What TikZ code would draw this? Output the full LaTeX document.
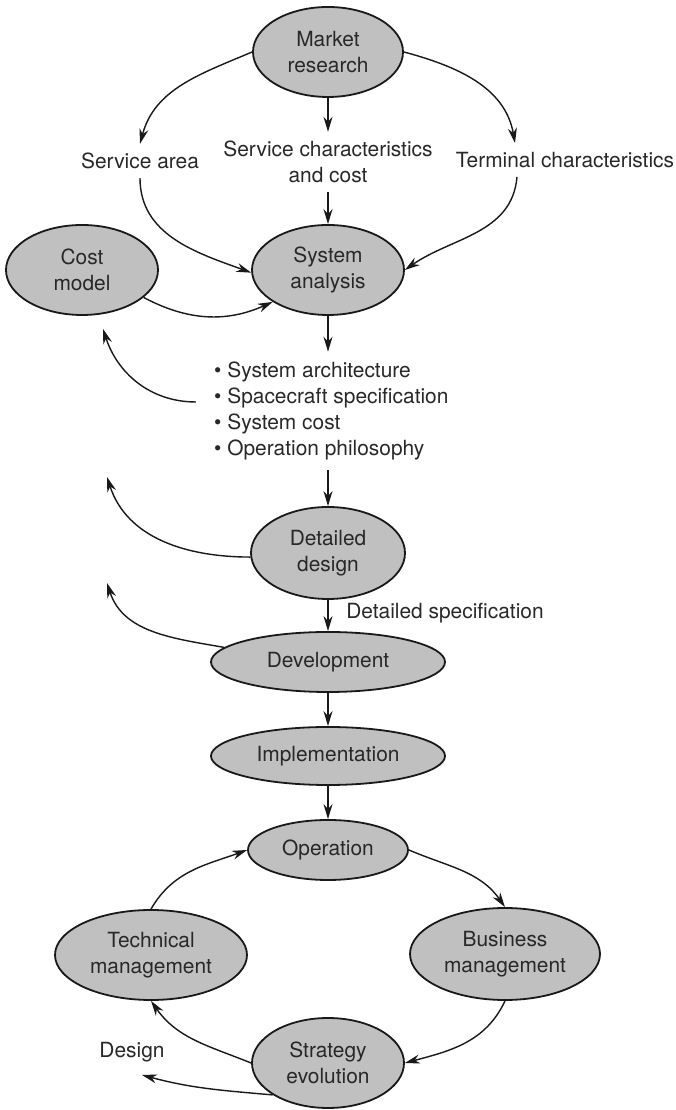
\documentclass[tikz,border=0pt]{standalone}
\usepackage{fontspec}
\setmainfont{TeX Gyre Heros}
\usetikzlibrary{shapes.geometric,arrows.meta}
\definecolor{nodefill}{RGB}{192,192,192}
\definecolor{txt}{RGB}{40,40,40}
\definecolor{ln}{RGB}{25,25,25}
\begin{document}
\begin{tikzpicture}[x=1pt,y=1pt,
  every node/.style={font=\fontsize{20.9}{26}\selectfont, text=txt},
  oval/.style={ellipse, draw=ln, line width=1.8pt, fill=nodefill, inner sep=0pt, align=center},
  lbl/.style={inner sep=9pt, align=center},
  arr/.style={draw=ln, line width=1.4pt, -{Stealth[length=15pt,width=9pt]}},
]
\useasboundingbox[fill=white] (0,0) rectangle (676,1110);
% nodes
\node[oval, minimum width=150pt, minimum height=90pt] (mr) at (328,1058) {Market\\research};
\node[lbl] (sa) at (140,949) {Service area};
\node[lbl] (sc) at (328,948) {Service characteristics\\and cost};
\node[lbl] (tc) at (565,950) {Terminal characteristics};
\node[oval, minimum width=152pt, minimum height=90pt] (sys) at (328,840) {System\\analysis};
\node[oval, minimum width=152pt, minimum height=90pt] (cm) at (82,840) {Cost\\model};
\node[inner xsep=0pt, inner ysep=10pt, anchor=west, align=left] (bul) at (214,699)
  {• System architecture\\• Spacecraft specification\\• System cost\\• Operation philosophy};
\node[oval, minimum width=154pt, minimum height=92pt] (dd) at (328,557) {Detailed\\design};
\node[lbl] (ds) at (445,497) {Detailed specification};
\node[oval, minimum width=234pt, minimum height=60pt] (dev) at (328,448) {Development};
\node[oval, minimum width=234pt, minimum height=58pt] (imp) at (328,354) {Implementation};
\node[oval, minimum width=160pt, minimum height=60pt] (op) at (328,260) {Operation};
\node[oval, minimum width=192pt, minimum height=90pt] (tm) at (151,155) {Technical\\management};
\node[oval, minimum width=190pt, minimum height=92pt] (bm) at (505,156) {Business\\management};
\node[oval, minimum width=152pt, minimum height=90pt] (se) at (328,47) {Strategy\\evolution};
\node[lbl] (de) at (132,58) {Design};
\coordinate (u1) at (107,633);
\coordinate (u2) at (107,527);
\coordinate (d1) at (142,35);
% connectors
\draw[arr] (mr.west) to[out=203,in=75] (sa.north);
\draw[arr] (mr.south) -- (sc.north);
\draw[arr] (mr.east) to[out=-15,in=100] ([xshift=-50pt]tc.north);
\draw[arr] (sa.south) to[out=-90,in=160] (sys.182);
\draw[arr] (sc.south) -- (sys.north);
\draw[arr] ([xshift=-48pt]tc.south) to[out=-95,in=35] (sys.east);
\draw[arr] (cm.-24) to[out=-28,in=204] (sys.210);
\draw[arr] (sys.south) -- (sys.south |- bul.north);
\draw[arr] ([xshift=-18pt,yshift=9pt]bul.west) to[out=180,in=-72] ([xshift=21pt,yshift=-13pt]cm.south);
\draw[arr] (dd.north |- bul.south) -- (dd.north);
\draw[arr] (dd.183) to[out=180,in=-72] (u1);
\draw[arr] (dd.south) -- (dev.north);
\draw[arr] (dev.172) to[out=170,in=-72] (u2);
\draw[arr] (dev.south) -- (imp.north);
\draw[arr] (imp.south) -- (op.north);
\draw[arr] (op.east) to[out=-23,in=125] (bm.north);
\draw[arr] (bm.south) to[out=-115,in=15] (se.east);
\draw[arr] (se.west) to[out=158,in=-55] (tm.south);
\draw[arr] (tm.north) to[out=60,in=200] (op.west);
\draw[arr] (se.210) to[out=175,in=-15] (d1);
\end{tikzpicture}
\end{document}
